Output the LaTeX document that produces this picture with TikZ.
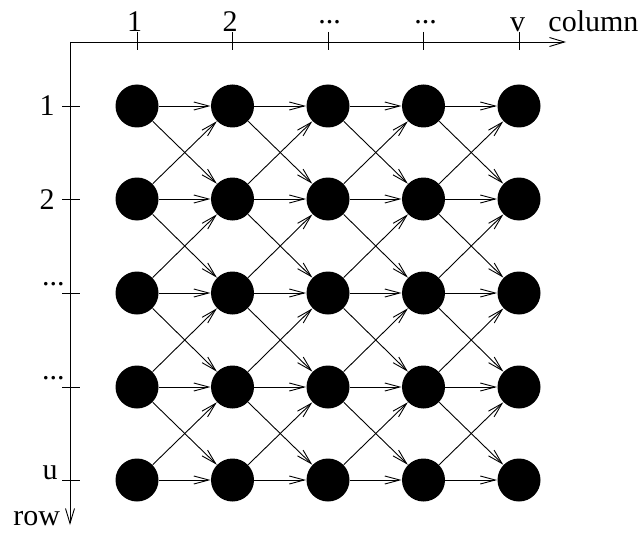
\documentclass[tikz,border=0pt]{standalone}
\usepackage{fontspec}
\setmainfont{Liberation Serif}
\usetikzlibrary{arrows.meta}
\begin{document}
\begin{tikzpicture}[x=1pt,y=-1pt,line width=0.9pt,
  dot/.style={circle,fill=black,draw=none,minimum size=43pt,inner sep=0pt},
  link/.style={-{Straight Barb[length=15pt,width=8pt]}},
  axisarrow/.style={-{Straight Barb[length=15pt,width=9pt]}},
  lab/.style={font=\fontsize{30}{36}\selectfont,inner sep=0pt}]
\useasboundingbox (0,0) rectangle (644,540);
% nodes
\foreach \c/\x in {1/137,2/232.5,3/328,4/423.5,5/519}
  \foreach \r/\y in {1/106,2/199,3/293,4/387,5/480}
    \node[dot] (n\c\r) at (\x,\y) {};
% connectors
\foreach \c in {1,...,4}{
  \pgfmathtruncatemacro\d{\c+1}
  \foreach \r in {1,...,5}{
    \draw[link] (n\c\r) -- (n\d\r);
    \ifnum\r<5
      \pgfmathtruncatemacro\s{\r+1}
      \draw[link] (n\c\r) -- (n\d\s);
    \fi
    \ifnum\r>1
      \pgfmathtruncatemacro\s{\r-1}
      \draw[link] (n\c\r) -- (n\d\s);
    \fi
  }
}
% axes
\coordinate (o) at (70,42);
\coordinate (xe) at (566,42);
\coordinate (ye) at (70,525);
\draw[axisarrow] (o) -- (xe);
\draw[axisarrow] (o) -- (ye);
\foreach \x in {137,232.5,328,423.5,519}
  \draw (\x,32) -- (\x,50);
\foreach \y in {106,199,293,387,480}
  \draw (62,\y) -- (80,\y);
% column labels
\node[lab,anchor=base] (c1) at (134.5,32) {1};
\node[lab,anchor=base] (c2) at (230,32) {2};
\node[lab,anchor=base] (c3) at (329.5,23.5) {...};
\node[lab,anchor=base] (c4) at (425.5,23.5) {...};
\node[lab,anchor=base] (c5) at (517.5,32) {v};
\node[lab,anchor=base west] (cl) at (548,32) {column};
% row labels
\node[lab,anchor=base east] (r1) at (55,116) {1};
\node[lab,anchor=base east] (r2) at (55,209) {2};
\node[lab,anchor=base east] (r3) at (65,285) {...};
\node[lab,anchor=base east] (r4) at (65,379) {...};
\node[lab,anchor=base east] (r5) at (58,479.5) {u};
\node[lab,anchor=base west] (rl) at (13,525) {row};
\end{tikzpicture}
\end{document}
